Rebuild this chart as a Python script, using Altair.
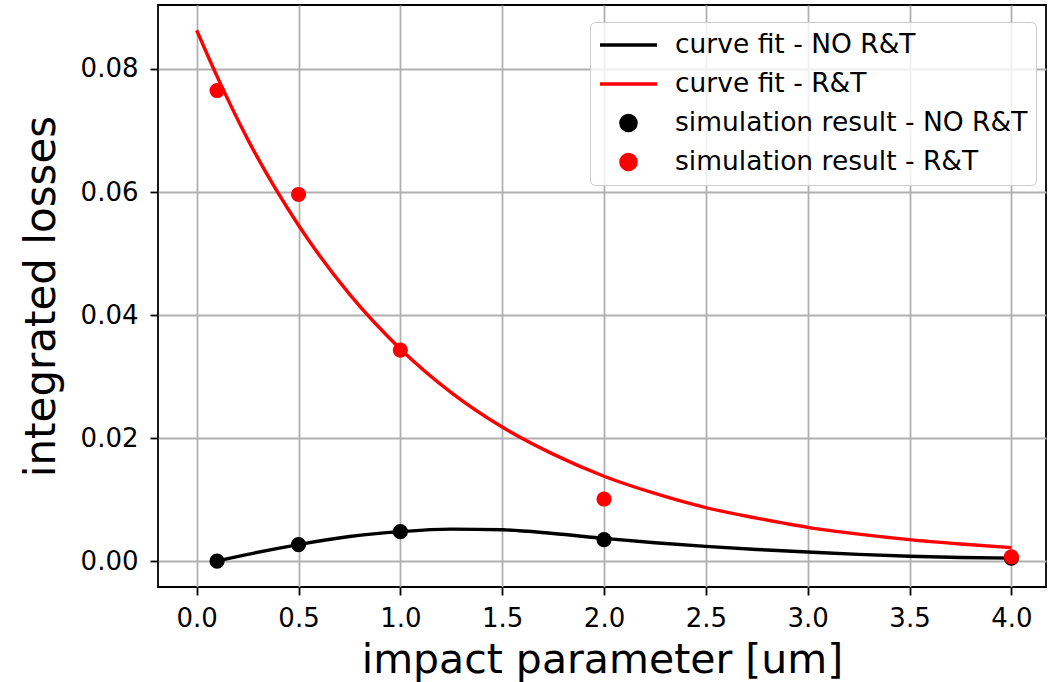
import altair as alt
import pandas as pd

# ---- data ----
fit_rt_x = [0.0, 0.1, 0.25, 0.5, 0.75, 1.0, 1.25, 1.5, 1.75, 2.0, 2.25, 2.5, 2.75, 3.0, 3.25, 3.5, 3.75, 4.0]
fit_rt_y = [0.0863, 0.0788, 0.0686, 0.0546, 0.0434, 0.0345, 0.0274, 0.0218, 0.0174, 0.0138, 0.0110,
            0.0087, 0.0070, 0.0055, 0.0044, 0.0035, 0.0028, 0.0022]
fit_nort_x = [0.1, 0.25, 0.5, 0.75, 1.0, 1.25, 1.5, 1.75, 2.0, 2.25, 2.5, 2.75, 3.0, 3.25, 3.5, 3.75, 4.0]
fit_nort_y = [0.0000, 0.0011, 0.0027, 0.0040, 0.0048, 0.0052, 0.0051, 0.0045, 0.0037, 0.0030,
              0.0024, 0.0019, 0.0015, 0.0011, 0.0008, 0.0006, 0.0005]
sim_x = [0.1, 0.5, 1.0, 2.0, 4.0]
sim_nort_y = [0.0000, 0.0027, 0.0048, 0.0035, 0.0005]
sim_rt_y = [0.0765, 0.0596, 0.0343, 0.0101, 0.0007]

labels = ["curve fit - NO R&T", "curve fit - R&T",
          "simulation result - NO R&T", "simulation result - R&T"]
colors = ["#000000", "#ff0000", "#000000", "#ff0000"]

x_ticks = [0.0, 0.5, 1.0, 1.5, 2.0, 2.5, 3.0, 3.5, 4.0]
y_ticks = [0.0, 0.02, 0.04, 0.06, 0.08]

lines_df = pd.concat([
    pd.DataFrame({"x": fit_nort_x, "y": fit_nort_y, "series": labels[0]}),
    pd.DataFrame({"x": fit_rt_x, "y": fit_rt_y, "series": labels[1]}),
])
pts_df = pd.concat([
    pd.DataFrame({"x": sim_x, "y": sim_nort_y, "series": labels[2]}),
    pd.DataFrame({"x": sim_x, "y": sim_rt_y, "series": labels[3]}),
])

FONT = "DejaVu Sans"
TICK_FS = 26
LEG_FS = 26.5

xenc = alt.X("x:Q", scale=alt.Scale(domain=[-0.19, 4.17], nice=False, zero=False),
             axis=alt.Axis(values=x_ticks, format=".1f", title="impact parameter [um]"))
yenc = alt.Y("y:Q", scale=alt.Scale(domain=[-0.0042, 0.0904], nice=False, zero=False),
             axis=alt.Axis(values=y_ticks, format=".2f", title="integrated losses"))

leg = alt.Legend(title=None, orient="none", legendX=432, legendY=17,
                 fillColor="rgba(255,255,255,0.8)", strokeColor="#cccccc",
                 cornerRadius=5, padding=8, labelFontSize=LEG_FS, labelFont=FONT,
                 labelColor="#000000", symbolStrokeWidth=3.4, labelOffset=16,
                 clipHeight=30, rowPadding=9, labelLimit=600)

stroke_scale = alt.Scale(domain=labels, range=colors)
fill_scale = alt.Scale(domain=labels, range=colors)
shape_scale = alt.Scale(domain=labels, range=["stroke", "stroke", "circle", "circle"])
size_scale = alt.Scale(type="ordinal", domain=labels, range=[3249, 3249, 230, 230])

lines = alt.Chart(lines_df).mark_line(strokeWidth=3.4, interpolate="monotone").encode(
    x=xenc, y=yenc,
    stroke=alt.Stroke("series:N", scale=stroke_scale, legend=leg),
    detail="series:N",
)

points = alt.Chart(pts_df).mark_point(filled=True, opacity=1, strokeWidth=0).encode(
    x=xenc, y=yenc,
    fill=alt.Fill("series:N", scale=fill_scale, legend=leg),
    stroke=alt.Stroke("series:N", scale=stroke_scale, legend=leg),
    shape=alt.Shape("series:N", scale=shape_scale, legend=leg),
    size=alt.Size("series:N", scale=size_scale, legend=leg),
)

chart = alt.layer(lines, points).properties(
    width=888, height=582,
    padding={"left": 158, "top": 5, "right": 2, "bottom": 95},
    autosize=alt.AutoSizeParams(type="none"),
    background="white",
).configure_view(
    stroke="#000000", strokeWidth=1.8
).configure_axis(
    labelFont=FONT, titleFont=FONT, labelFontSize=TICK_FS, titleFontSize=41,
    titleFontWeight="normal", labelColor="#000000", titleColor="#000000",
    grid=True, gridColor="#b0b0b0", gridWidth=1.8, domain=False,
    tickColor="#000000", tickWidth=1.8, tickSize=8,
).configure_axisX(
    titlePadding=9, labelAngle=0, labelPadding=10
).configure_axisY(
    titlePadding=17, labelPadding=12, titleFontSize=42
)

chart.save("out.html", embed_options={"renderer": "svg", "actions": False})
